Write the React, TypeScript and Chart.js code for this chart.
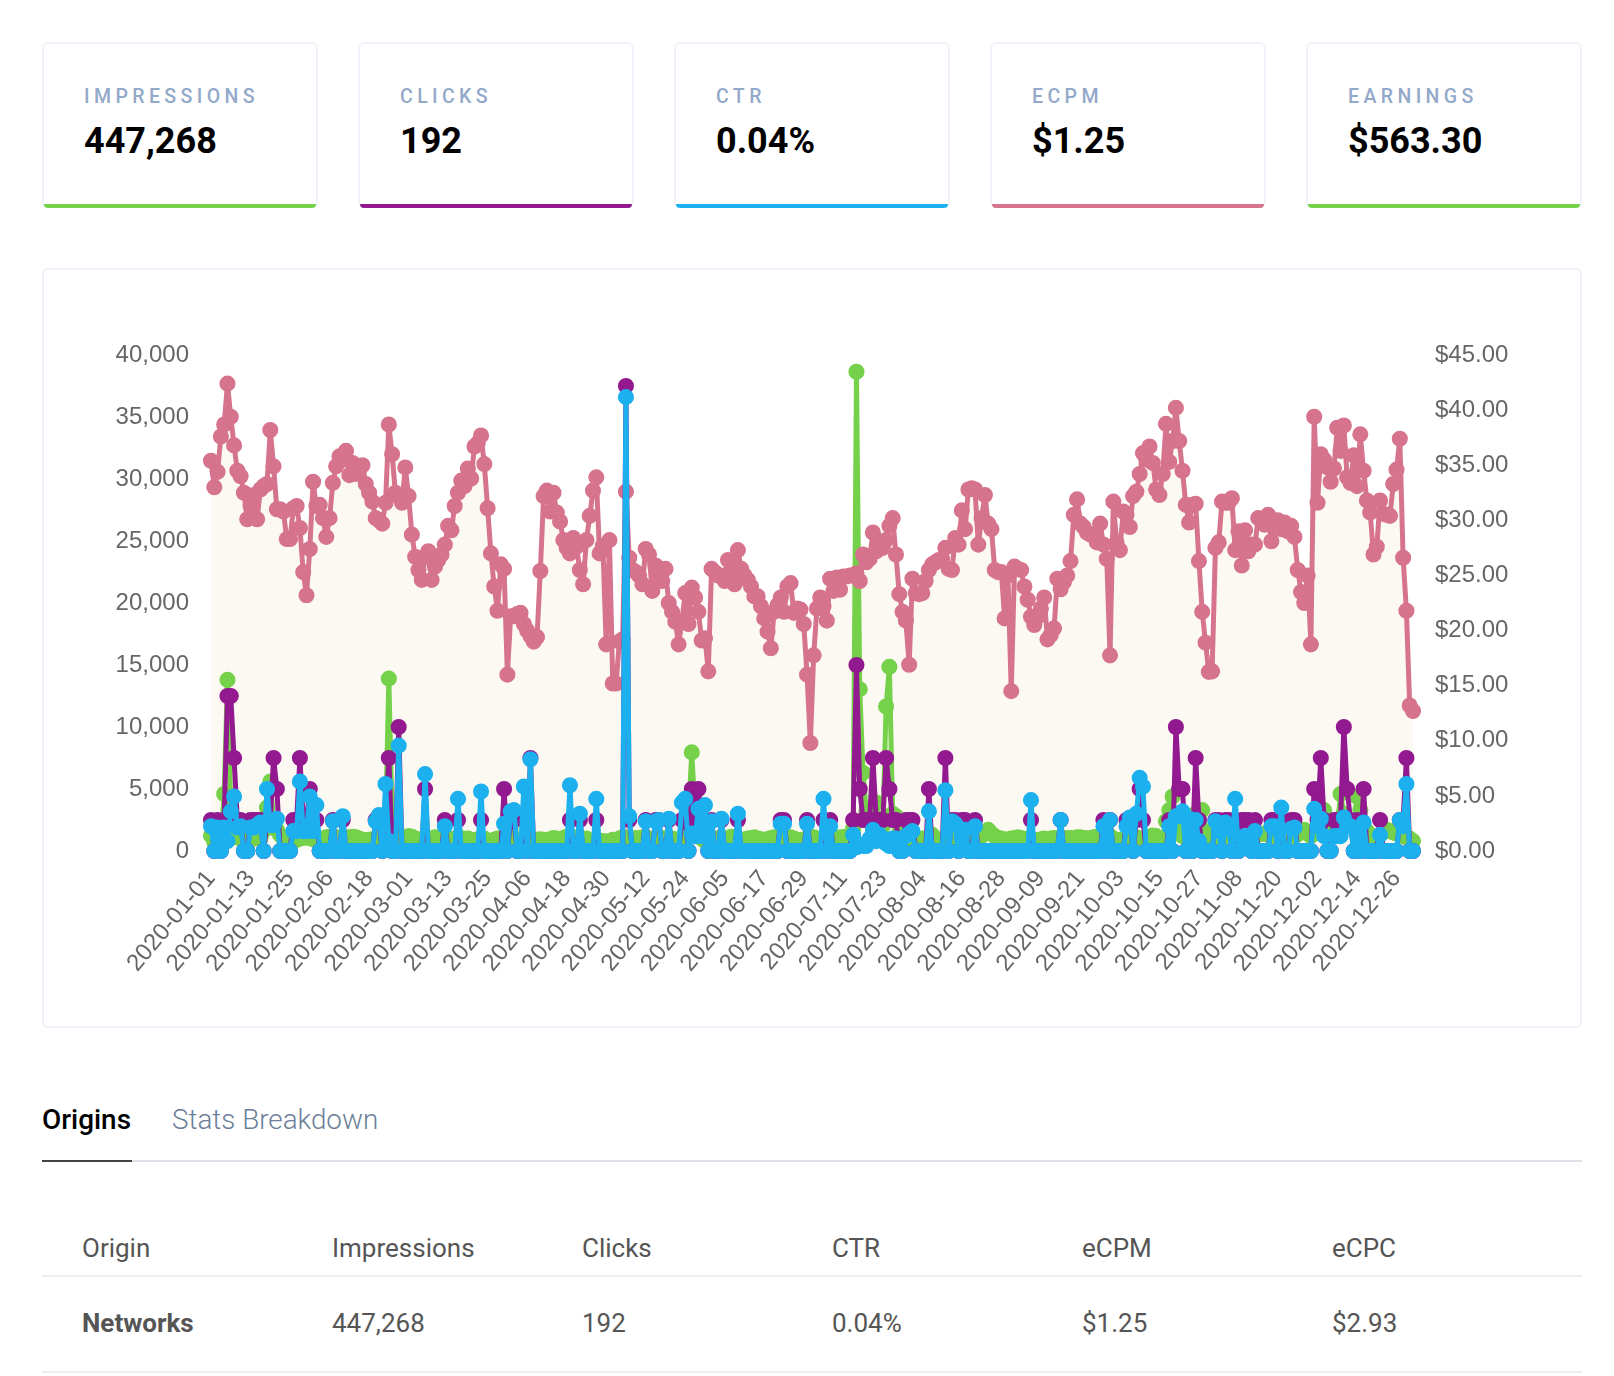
import React, { useEffect, useRef } from "react";
import { Chart, registerables } from "chart.js";

Chart.register(...registerables);

const MONTH_LENGTHS = [31, 29, 31, 30, 31, 30, 31, 31, 30, 31, 30, 31];
const categories: string[] = MONTH_LENGTHS.flatMap((len, m) =>
  Array.from({ length: len }, (_, d) =>
    `2020-${String(m + 1).padStart(2, "0")}-${String(d + 1).padStart(2, "0")}`
  )
);

const impressions = [
  1250,700,800,900,4600,13800,3500,1500,1100,1000,
  900,850,950,1000,1050,1000,1600,3500,5600,2400,
  1700,1300,1000,950,900,850,900,1000,1050,1100,
  1050,950,900,850,1000,1100,1150,1150,1100,1000,
  900,950,1100,1150,1100,1000,900,850,900,950,
  1000,1100,1300,2000,13900,2500,1500,1200,1000,1100,
  1200,1150,1000,950,850,900,950,1000,1100,950,
  900,850,800,950,1000,1100,1050,950,1000,900,
  800,950,1050,1000,850,800,900,1000,950,1200,
  1500,1800,1000,950,900,850,900,850,800,900,
  950,900,850,950,1050,1000,950,1050,1150,1250,
  850,800,900,950,1000,850,800,900,850,800,
  750,800,900,850,1000,1100,1100,1050,1000,1050,
  1000,1100,1150,1000,900,950,1000,1050,950,900,
  1000,950,900,1000,1500,3000,7950,3000,1500,1000,
  800,900,950,1000,1000,1100,1050,1000,1150,1100,
  1000,950,900,1000,1050,1100,1000,950,900,950,
  1050,1100,1000,950,900,1000,1100,1000,900,850,
  900,1050,1150,1100,1000,950,900,850,950,1000,
  1050,1100,1100,1150,1250,1800,38650,13050,6300,3200,
  2800,3000,3900,2400,2000,11650,14850,3000,2800,1500,
  1200,1000,1100,1000,900,950,1000,1000,1100,1300,
  1000,900,850,950,1000,950,900,1000,1100,1050,
  1100,1000,950,1050,1200,1500,1700,1400,1200,1050,
  1000,950,900,1000,1050,1100,1050,950,1000,950,
  900,850,950,1000,950,1000,1050,1000,950,1000,
  1050,1050,1000,1100,1100,1050,1000,1050,1100,1150,
  1100,1000,1150,1200,1000,850,900,950,1000,1100,
  1150,1100,1000,950,1050,1150,1250,1200,1050,1000,
  2400,3300,4400,2500,1500,1200,1300,1100,1400,3000,
  2000,3300,1600,1100,900,1000,1200,1300,1200,1300,
  1400,1500,1300,1100,1000,1100,1200,1350,1300,1400,
  1400,1300,1200,1100,1000,1050,1150,1300,1250,1200,
  1350,1500,1700,1400,1200,1400,2000,2400,3300,1800,
  1400,1500,1800,4600,3000,2400,2000,1800,4400,3300,
  2000,1600,1300,1100,1000,1300,1500,1700,1600,1500,
  1400,1300,1200,1100,1000,800,
];

const clicks = [
  1,0,1,0,1,5,5,3,1,1,
  0,0,1,1,1,1,0,1,1,3,
  2,0,0,0,0,1,1,3,1,1,
  2,1,1,0,0,0,0,1,0,0,
  1,0,0,0,0,0,0,0,0,0,
  1,1,0,1,3,0,0,4,0,0,
  0,0,0,0,0,2,0,0,0,0,
  0,1,0,0,0,1,0,0,0,0,
  0,0,1,0,0,0,0,0,0,2,
  0,1,1,0,0,1,0,3,0,0,
  0,0,0,0,0,0,0,0,0,1,
  0,0,1,0,0,0,0,1,0,0,
  0,0,0,0,0,0,15,1,0,0,
  0,0,1,0,0,1,1,0,0,1,
  0,0,0,1,1,0,2,1,2,1,
  1,0,1,0,0,1,0,0,0,0,
  1,0,0,0,0,0,0,0,0,0,
  0,0,0,1,1,0,0,0,0,0,
  0,1,0,0,0,0,1,0,1,0,
  0,0,0,0,0,1,6,2,1,1,
  1,3,1,1,1,3,2,1,1,0,
  0,1,1,1,0,0,0,0,2,0,
  0,0,0,3,0,1,1,0,1,1,
  0,0,1,0,0,0,0,0,0,0,
  0,0,0,0,0,0,0,0,0,1,
  0,0,0,0,0,0,0,0,1,0,
  0,0,0,0,0,0,0,0,0,0,
  0,1,0,1,0,0,0,0,1,1,
  0,1,2,1,0,0,0,0,0,0,
  0,1,0,4,2,2,0,1,0,3,
  1,0,0,0,0,1,1,0,1,1,
  0,1,0,1,1,1,0,1,0,0,
  0,0,1,1,0,1,0,0,1,1,
  0,0,0,0,0,2,1,3,1,0,
  0,1,1,1,4,2,1,0,1,0,
  2,0,0,0,0,1,0,0,0,0,
  0,1,1,3,0,0,
];

const ctr = [
  .10,0,.095,0,.095,.04,.16,.22,.095,.10,
  0,0,.095,.095,.105,.115,0,.25,.105,.105,
  .13,0,0,0,0,.08,.08,.28,.08,.08,
  .22,.08,.185,0,0,0,0,.12,0,0,
  .14,0,0,0,0,0,0,0,0,0,
  .12,.145,0,.27,.04,0,0,.425,0,0,
  0,0,0,0,0,.31,0,0,0,0,
  0,.10,0,0,0,.21,0,0,0,0,
  0,0,.24,0,0,0,0,0,0,.11,
  0,.16,.165,0,0,.26,0,.37,0,0,
  0,0,0,0,0,0,0,0,0,.265,
  0,0,.15,0,0,0,0,.21,0,0,
  0,0,0,0,0,0,1.83,.14,0,0,
  0,0,.12,0,0,.12,.125,0,0,.13,
  0,0,0,.195,.21,0,.07,.06,.17,.06,
  .185,0,.12,0,0,.13,0,0,0,0,
  .15,0,0,0,0,0,0,0,0,0,
  0,0,0,.11,.11,0,0,0,0,0,
  0,.11,0,0,0,0,.21,0,.10,0,
  0,0,0,0,0,.065,.015,.025,.02,.02,
  .05,.085,.04,.065,.05,.03,.02,.05,.05,0,
  0,.06,.07,.08,0,0,0,0,.16,0,
  0,0,0,.245,0,.12,.11,0,.05,.085,
  0,0,.10,0,0,0,0,0,0,0,
  0,0,0,0,0,0,0,0,0,.205,
  0,0,0,0,0,0,0,0,.125,0,
  0,0,0,0,0,0,0,0,0,0,
  0,.10,0,.125,0,0,0,0,.10,.135,
  0,.15,.295,.26,0,0,0,0,0,0,
  0,.10,0,.14,.14,.16,0,.13,0,.125,
  .04,0,0,0,0,.12,.08,0,.115,.09,
  0,.21,0,.055,.06,.05,0,.08,0,0,
  0,0,.10,.10,0,.175,0,0,.09,.095,
  0,0,0,0,0,.17,.10,.13,.06,0,
  0,.06,.06,.06,.135,.10,.10,0,.07,0,
  .115,0,0,0,0,.065,0,0,0,0,
  0,.125,.10,.27,0,0,
];

const ecpm = [
  35.4,33.0,34.4,37.6,38.7,42.4,39.4,36.8,34.5,34.0,
  32.5,30.1,31.3,32.3,30.1,32.8,33.1,33.3,38.2,34.9,
  31.0,31.0,30.8,28.3,28.3,31.1,31.3,29.3,25.3,23.2,
  27.4,33.5,31.3,31.4,30.2,28.5,30.2,33.4,34.9,35.8,
  35.5,36.3,34.1,35.2,34.2,34.6,35.0,33.3,32.5,31.7,
  30.2,30.0,29.7,31.6,38.7,36.0,32.5,32.2,31.6,34.8,
  32.2,28.7,26.7,25.5,24.6,26.7,27.2,24.6,25.8,26.4,
  26.9,27.8,29.5,29.1,31.3,32.5,33.6,33.1,34.7,33.8,
  36.7,37.0,37.7,35.1,31.1,27.0,24.0,21.8,26.0,25.6,
  16.0,21.3,21.3,21.5,21.6,20.6,20.0,19.5,19.0,19.4,
  25.4,32.2,32.7,30.8,32.5,30.7,29.9,28.2,27.5,27.0,
  28.4,27.6,25.5,24.2,28.2,30.4,32.7,33.9,27.0,27.7,
  18.75,28.2,15.2,15.2,19.0,19.2,32.6,26.6,25.5,25.3,
  25.0,24.2,27.4,26.9,23.6,25.9,24.7,24.5,25.6,22.5,
  21.7,20.8,18.75,20.9,23.4,20.6,23.9,23.0,21.7,19.1,
  19.3,16.3,25.6,25.3,25.0,25.0,24.5,26.4,25.5,24.2,
  27.3,25.6,25.0,24.6,24.0,23.1,23.1,22.2,21.1,19.9,
  18.4,21.7,22.3,23.0,21.7,24.0,24.3,21.6,22.0,21.9,
  20.6,16.0,9.8,17.75,22.0,23.0,22.2,20.9,24.7,23.6,
  24.8,23.7,24.9,24.9,25.0,25.0,25.2,24.5,26.9,26.2,
  26.5,28.9,27.2,28.1,27.5,28.2,29.5,30.2,26.9,23.3,
  21.7,20.9,16.9,24.7,23.4,23.3,23.4,24.5,25.5,26.0,
  26.2,26.4,26.5,27.5,25.6,25.5,28.4,27.8,30.9,29.2,
  32.8,32.9,32.8,27.8,30.2,32.3,29.7,29.2,25.5,25.3,
  25.3,21.1,25.0,14.5,25.8,25.6,25.5,24.0,22.8,21.25,
  20.5,21.25,22.0,23.0,19.2,19.6,20.2,24.7,23.75,24.4,
  25.0,26.3,30.5,31.9,29.7,29.4,28.9,28.7,28.6,28.0,
  29.7,27.8,26.5,17.75,31.7,28.0,27.3,30.8,30.5,29.4,
  32.2,32.6,34.2,36.1,35.5,36.7,35.2,32.8,32.3,34.2,
  38.75,35.3,37.2,40.2,37.2,34.5,31.4,29.8,31.4,31.5,
  26.3,21.7,18.9,16.25,16.3,27.5,28.0,31.7,31.6,31.6,
  32.0,27.3,29.0,25.9,29.1,27.2,27.8,27.8,30.2,30.1,
  29.6,30.5,28.1,29.7,30.0,29.2,29.8,29.0,29.5,28.5,
  25.5,23.5,22.5,25.0,18.75,39.4,31.6,36.0,35.5,34.8,
  33.5,34.7,38.4,36.3,38.6,33.9,33.4,35.9,33.1,37.8,
  34.5,31.8,30.7,26.9,27.6,31.8,30.6,30.5,30.4,33.3,
  34.6,37.4,26.6,21.8,13.2,12.7,
];

const GREEN = "#75d14a";
const PURPLE = "#92198f";
const BLUE = "#1cb0ee";
const PINK = "#d6738d";
const CREAM = "#fcf9f3";

const cards = [
  { label: "IMPRESSIONS", value: "447,268", color: GREEN },
  { label: "CLICKS", value: "192", color: PURPLE },
  { label: "CTR", value: "0.04%", color: BLUE },
  { label: "ECPM", value: "$1.25", color: PINK },
  { label: "EARNINGS", value: "$563.30", color: GREEN },
];

const tableHead = ["Origin", "Impressions", "Clicks", "CTR", "eCPM", "eCPC"];
const tableRow = ["Networks", "447,268", "192", "0.04%", "$1.25", "$2.93"];

const ROBOTO = "Roboto, sans-serif";

function abs(left: number, top: number, extra: React.CSSProperties = {}): React.CSSProperties {
  return { position: "absolute", left, top, ...extra };
}

function line(label: string, data: number[], color: string, yAxisID: string, order: number) {
  return {
    label,
    data,
    yAxisID,
    order,
    borderColor: color,
    pointBackgroundColor: color,
    pointBorderColor: color,
    fill: false,
    borderWidth: 5,
    borderJoinStyle: "round",
    pointRadius: 7.3,
    pointBorderWidth: 1.5,
    tension: 0,
    clip: false as any,
  };
}

export default function App() {
  const ref = useRef<HTMLCanvasElement>(null);
  useEffect(() => {
    const chart = new Chart(ref.current as HTMLCanvasElement, {
      type: "line",
      data: {
        labels: categories,
        datasets: [
          line("CTR", ctr, BLUE, "yCtr", 1),
          line("Clicks", clicks, PURPLE, "yClicks", 2),
          line("eCPM", ecpm, PINK, "yMoney", 3),
          line("Impressions", impressions, GREEN, "yImp", 4),
          {
            label: "eCPM area",
            data: ecpm,
            yAxisID: "yMoney",
            order: 5,
            fill: "origin",
            backgroundColor: CREAM,
            borderWidth: 0,
            pointRadius: 0,
            tension: 0,
          },
        ] as any,
      },
      options: {
        responsive: false,
        animation: false,
        layout: { padding: { top: 83 } },
        plugins: { legend: { display: false }, tooltip: { enabled: false } },
        scales: {
          x: {
            grid: { display: false },
            border: { display: false },
            afterFit: (s: any) => { s.height = 178; },
            ticks: {
              autoSkip: false,
              minRotation: 50,
              maxRotation: 50,
              padding: 6,
              color: "#666",
              font: { family: "'Liberation Sans'", size: 24 },
              callback: (_v: any, i: number) => (i % 12 === 0 ? categories[i] : null),
            },
          },
          yImp: {
            position: "left",
            min: 0,
            max: 40000,
            grid: { display: false },
            border: { display: false },
            afterFit: (s: any) => { s.width = 169; },
            ticks: {
              stepSize: 5000,
              padding: 14,
              color: "#666",
              font: { family: "'Liberation Sans'", size: 24 },
              callback: (v: any) => Number(v).toLocaleString("en-US"),
            },
          },
          yMoney: {
            position: "right",
            min: 0,
            max: 45,
            grid: { display: false },
            border: { display: false },
            afterFit: (s: any) => { s.width = 169; },
            ticks: {
              stepSize: 5,
              padding: 14,
              color: "#666",
              font: { family: "'Liberation Sans'", size: 24 },
              callback: (v: any) => "$" + Number(v).toFixed(2),
            },
          },
          yClicks: { display: false, min: 0, max: 16 },
          yCtr: { display: false, min: 0, max: 2 },
        },
      } as any,
    });
    return () => chart.destroy();
  }, []);

  return (
    <div style={{ position: "absolute", left: 0, top: 0, width: 1614, height: 1376, overflow: "hidden", background: "#fff", fontFamily: ROBOTO }}>
      {cards.map((c, i) => (
        <div key={c.label} style={abs(42 + i * 316, 42, { width: 276, height: 166, boxSizing: "border-box", border: "2px solid #eff3f9", borderBottom: "none", borderRadius: 6 })}>
          <div style={abs(40, 41, { fontSize: 19.5, fontWeight: 500, letterSpacing: 4.4, color: "#93a9c9", lineHeight: "24px", whiteSpace: "nowrap" })}>{c.label}</div>
          <div style={abs(40, 75, { fontSize: 36, fontWeight: 700, color: "#000", lineHeight: "44px", whiteSpace: "nowrap" })}>{c.value}</div>
          <div style={abs(0, 160, { width: 272, height: 4, background: c.color, borderRadius: "0 0 4px 4px" })} />
        </div>
      ))}

      <div style={abs(42, 268, { width: 1540, height: 760, boxSizing: "border-box", border: "2px solid #eff3f9", borderRadius: 6 })} />
      <canvas ref={ref} width={1540} height={757} style={abs(42, 272, { width: 1540, height: 757 })} />

      <div style={abs(42, 1102, { fontSize: 27.9, fontWeight: 500, color: "#000", lineHeight: "36px" })}>Origins</div>
      <div style={abs(172, 1102, { fontSize: 27.8, fontWeight: 300, color: "#6c7f99", lineHeight: "36px" })}>Stats Breakdown</div>
      <div style={abs(42, 1160, { width: 1540, height: 2, background: "#dde2e8" })} />
      <div style={abs(42, 1160, { width: 90, height: 2, background: "#444" })} />

      {tableHead.map((t, i) => (
        <div key={t} style={abs(82 + i * 250, 1231, { fontSize: 26, color: "#555", lineHeight: "34px" })}>{t}</div>
      ))}
      <div style={abs(42, 1275, { width: 1540, height: 2, background: "#eceef1" })} />
      {tableRow.map((t, i) => (
        <div key={t} style={abs(82 + i * 250, 1306, { fontSize: 26, fontWeight: i === 0 ? 700 : 400, color: "#555", lineHeight: "34px" })}>{t}</div>
      ))}
      <div style={abs(42, 1371, { width: 1540, height: 2, background: "#eceef1" })} />
    </div>
  );
}
